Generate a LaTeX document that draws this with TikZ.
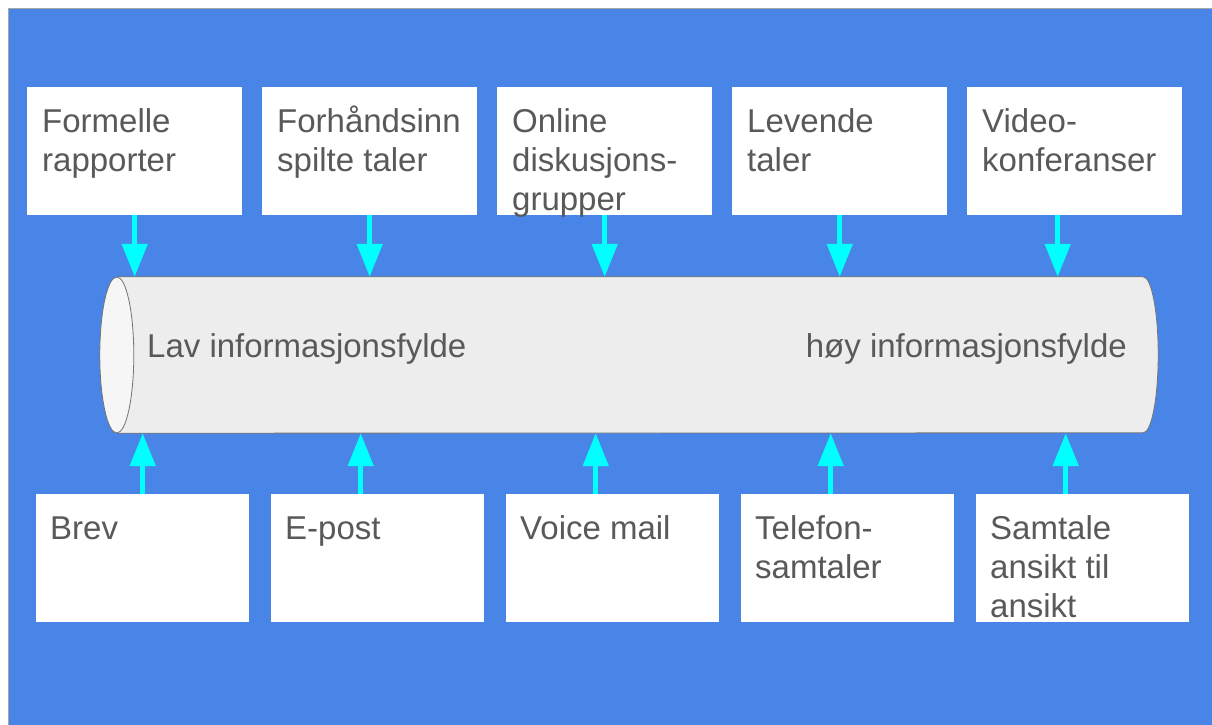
\documentclass[tikz,border=0pt]{standalone}
\usepackage{fontspec}
\setmainfont{Liberation Sans}
\usetikzlibrary{arrows.meta,positioning}

\definecolor{bgblue}{RGB}{73,133,230}
\definecolor{txtgray}{RGB}{89,89,89}
\definecolor{pipegray}{RGB}{237,237,237}
\definecolor{pipeend}{RGB}{246,246,246}
\definecolor{feedcyan}{RGB}{0,255,255}

\tikzset{
    mediumbox/.style={fill=white, anchor=north west, inner xsep=14pt, inner ysep=17.7pt,
        minimum width=215pt, minimum height=128pt, text=txtgray,
        font=\fontsize{33}{39}\selectfont},
    lowbox/.style={mediumbox, minimum width=213pt},
    pipeline/.style={draw=gray!90!black, line width=0.8pt},
    pipetext/.style={text=txtgray, font=\fontsize{33}{39}\selectfont, inner sep=0pt},
    feed/.style={feedcyan, line width=5pt, -{Triangle[width=25pt,length=33pt]}},
}
\newcommand\boxlines[1]{\parbox[t][92.6pt][t]{185pt}{\raggedright\strut#1}}

\begin{document}
\begin{tikzpicture}[x=1pt, y=-1pt]
    \useasboundingbox (0,0) rectangle (1212,724);
    \fill[white] (0,0) rectangle (1212,724);
    \draw[fill=bgblue, draw=gray!70] (8,8) rectangle (1216,728);

    % the channel
    \node[minimum width=1058pt, minimum height=156pt, inner sep=0pt] (cyl) at (629,355) {};
    \draw[pipeline, fill=pipegray] ([xshift=17pt]cyl.north west) -- ([xshift=-15pt]cyl.north east)
        arc[start angle=90, end angle=-90, x radius=15pt, y radius=78pt]
        -- ([xshift=17pt]cyl.south west) -- cycle;
    \draw[pipeline, fill=pipeend] ([xshift=17pt]cyl.west) ellipse[x radius=17pt, y radius=78pt];
    \node[pipetext, anchor=base west] (lowfill) at (147,357) {Lav informasjonsfylde};
    \node[pipetext, anchor=base east] (highfill) at (1127,357) {høy informasjonsfylde};

    % media above
    \foreach \x/\name/\shift/\txt in {27/t1/0/{Formelle\\rapporter}, 262/t2/0/{Forhåndsinn\\spilte taler},
            497/t3/0/{Online\\diskusjons-\\grupper}, 732/t4/0/{Levende\\taler}, 967/t5/-17/{Video-\\konferanser}} {
        \node[mediumbox] (\name) at (\x,87) {\boxlines{\txt}};
        \draw[feed] ([xshift=\shift pt]\name.south) -- ([xshift=\shift pt]\name.south |- cyl.north);
    }

    % media below
    \foreach \x/\name/\shift/\txt in {36/b1/0/{Brev}, 271/b2/-17/{E-post}, 506/b3/-17/{Voice mail},
            741/b4/-17/{Telefon-\\samtaler}, 976/b5/-17/{Samtale\\ansikt til\\ansikt}} {
        \node[lowbox] (\name) at (\x,494) {\boxlines{\txt}};
        \draw[feed] ([xshift=\shift pt]\name.north) -- ([xshift=\shift pt]\name.north |- cyl.south);
    }
\end{tikzpicture}
\end{document}
